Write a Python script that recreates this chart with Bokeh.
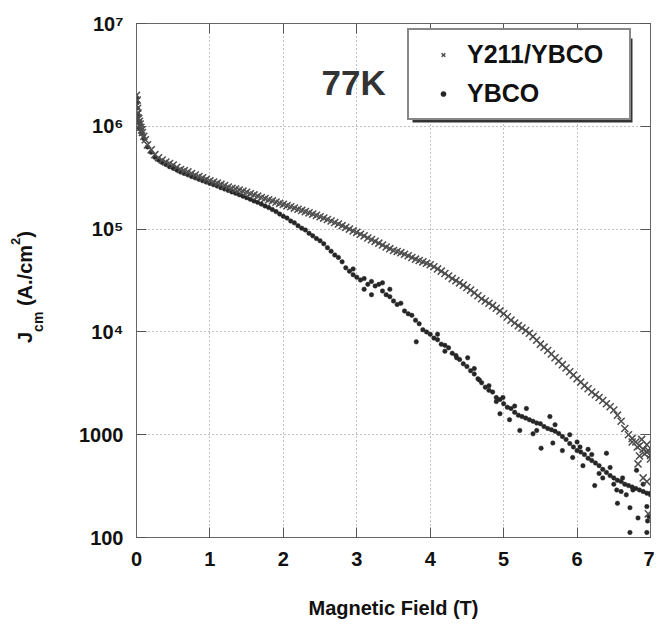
import math
from bokeh.plotting import figure
from bokeh.layouts import row
from bokeh.models import (Range1d, FixedTicker, LinearAxis, LogAxis, Legend,
                          LegendItem, Label, BoxAnnotation, ColumnDataSource, Div)
from bokeh.embed import file_html
from bokeh.resources import INLINE

# ---------------- data ----------------
field_t = [
    0.00, 0.05, 0.10, 0.15, 0.20, 0.25, 0.30, 0.35, 0.40, 0.45,
    0.50, 0.55, 0.60, 0.65, 0.70, 0.75, 0.80, 0.85, 0.90, 0.95,
    1.00, 1.05, 1.10, 1.15, 1.20, 1.25, 1.30, 1.35, 1.40, 1.45,
    1.50, 1.55, 1.60, 1.65, 1.70, 1.75, 1.80, 1.85, 1.90, 1.95,
    2.00, 2.05, 2.10, 2.15, 2.20, 2.25, 2.30, 2.35, 2.40, 2.45,
    2.50, 2.55, 2.60, 2.65, 2.70, 2.75, 2.80, 2.85, 2.90, 2.95,
    3.00, 3.05, 3.10, 3.15, 3.20, 3.25, 3.30, 3.35, 3.40, 3.45,
    3.50, 3.55, 3.60, 3.65, 3.70, 3.75, 3.80, 3.85, 3.90, 3.95,
    4.00, 4.05, 4.10, 4.15, 4.20, 4.25, 4.30, 4.35, 4.40, 4.45,
    4.50, 4.55, 4.60, 4.65, 4.70, 4.75, 4.80, 4.85, 4.90, 4.95,
    5.00, 5.05, 5.10, 5.15, 5.20, 5.25, 5.30, 5.35, 5.40, 5.45,
    5.50, 5.55, 5.60, 5.65, 5.70, 5.75, 5.80, 5.85, 5.90, 5.95,
    6.00, 6.05, 6.10, 6.15, 6.20, 6.25, 6.30, 6.35, 6.40, 6.45,
    6.50, 6.55, 6.60, 6.65, 6.70, 6.75, 6.80, 6.85, 6.90, 6.95,
    7.00,
]

jc_y211 = [
    2.0e6, 1.05e6, 8.0e5, 6.6e5, 5.9e5, 5.3e5, 4.95e5, 4.7e5, 4.5e5, 4.35e5,
    4.2e5, 4.0e5, 3.8e5, 3.7e5, 3.6e5, 3.47e5, 3.35e5, 3.25e5, 3.15e5, 3.05e5,
    2.95e5, 2.87e5, 2.8e5, 2.72e5, 2.65e5, 2.57e5, 2.5e5, 2.45e5, 2.4e5, 2.34e5,
    2.28e5, 2.21e5, 2.15e5, 2.09e5, 2.03e5, 1.98e5, 1.93e5, 1.88e5, 1.83e5, 1.78e5,
    1.74e5, 1.69e5, 1.65e5, 1.6e5, 1.56e5, 1.52e5, 1.48e5, 1.44e5, 1.40e5, 1.36e5,
    1.32e5, 1.28e5, 1.24e5, 1.2e5, 1.16e5, 1.12e5, 1.08e5, 1.04e5, 1.0e5, 9.6e4,
    9.3e4, 8.9e4, 8.6e4, 8.2e4, 7.9e4, 7.6e4, 7.3e4, 7.0e4, 6.7e4, 6.45e4,
    6.2e4, 6.05e4, 5.9e4, 5.7e4, 5.5e4, 5.3e4, 5.1e4, 4.95e4, 4.8e4, 4.65e4,
    4.5e4, 4.3e4, 4.1e4, 3.9e4, 3.7e4, 3.5e4, 3.3e4, 3.15e4, 3.0e4, 2.85e4,
    2.7e4, 2.55e4, 2.4e4, 2.25e4, 2.1e4, 2.0e4, 1.9e4, 1.8e4, 1.7e4, 1.6e4,
    1.5e4, 1.4e4, 1.3e4, 1.22e4, 1.15e4, 1.09e4, 1.03e4, 9.7e3, 9.0e3, 8.3e3,
    7.6e3, 7.1e3, 6.6e3, 6.1e3, 5.6e3, 5.2e3, 4.8e3, 4.45e3, 4.1e3, 3.8e3,
    3.5e3, 3.25e3, 3.0e3, 2.8e3, 2.6e3, 2.45e3, 2.3e3, 2.15e3, 2.0e3, 1.87e3,
    1.74e3, 1.55e3, 1.35e3, 1.15e3, 1.0e3, 920, 850, 780, 720, 680,
    630,
]

jc_ybco = [
    1.9e6, 1.0e6, 7.6e5, 6.3e5, 5.6e5, 5.0e5, 4.7e5, 4.45e5, 4.25e5, 4.05e5,
    3.9e5, 3.75e5, 3.6e5, 3.48e5, 3.37e5, 3.25e5, 3.15e5, 3.05e5, 2.96e5, 2.87e5,
    2.78e5, 2.70e5, 2.62e5, 2.53e5, 2.45e5, 2.38e5, 2.30e5, 2.23e5, 2.16e5, 2.09e5,
    2.02e5, 1.95e5, 1.88e5, 1.82e5, 1.75e5, 1.68e5, 1.62e5, 1.55e5, 1.48e5, 1.40e5,
    1.33e5, 1.28e5, 1.20e5, 1.15e5, 1.08e5, 1.02e5, 9.8e4, 9.1e4, 8.6e4, 8.1e4,
    7.7e4, 7.2e4, 6.6e4, 6.1e4, 5.6e4, 5.3e4, 4.8e4, 4.2e4, 3.9e4, 3.6e4,
    3.4e4, 3.2e4, 3.3e4, 2.9e4, 3.1e4, 2.8e4, 2.9e4, 2.5e4, 2.3e4, 2.2e4,
    2.0e4, 1.85e4, 1.9e4, 1.6e4, 1.5e4, 1.45e4, 1.3e4, 1.2e4, 1.05e4, 1.0e4,
    9.5e3, 8.7e3, 8.4e3, 7.6e3, 7.4e3, 7.0e3, 6.2e3, 5.9e3, 5.4e3, 4.9e3,
    4.6e3, 4.2e3, 3.9e3, 3.5e3, 3.2e3, 2.9e3, 2.7e3, 2.6e3, 2.3e3, 2.2e3,
    2.0e3, 1.85e3, 1.8e3, 1.65e3, 1.55e3, 1.5e3, 1.45e3, 1.4e3, 1.35e3, 1.3e3,
    1.28e3, 1.2e3, 1.15e3, 1.12e3, 1.08e3, 1.03e3, 960, 900, 820, 760,
    700, 680, 640, 590, 560, 530, 500, 460, 430, 400,
    380, 360, 350, 330, 320, 310, 300, 290, 280, 270,
    260,
]

# extra scattered points (low-field spike and high-field noise)
extra_field_y211 = [0.0, 0.0, 0.01, 0.015, 0.02, 0.03, 0.04, 0.06, 0.07, 0.08, 0.12,
                    6.75, 6.82, 6.85, 6.88, 6.90, 6.92, 6.95, 6.95, 6.97, 6.97, 7.0, 6.83]
extra_jc_y211 = [1.6e6, 1.3e6, 1.8e6, 1.5e6, 1.35e6, 1.2e6, 1.12e6, 9.8e5, 9.2e5, 8.7e5, 7.4e5,
                 850, 760, 620, 900, 380, 650, 350, 800, 700, 170, 580, 520]

extra_field_ybco = [0.0, 0.0, 0.01, 0.02, 0.03, 0.04, 0.07,
                    2.95, 3.10, 3.20, 3.35, 3.45, 3.81, 4.10, 4.20, 4.36, 4.51, 4.60,
                    4.67, 4.80, 4.90, 4.95, 4.99, 5.08, 5.15, 5.22, 5.31, 5.40, 5.45,
                    5.51, 5.63, 5.67, 5.70, 5.80, 5.90, 5.94, 6.00, 6.04, 6.08, 6.15,
                    6.20, 6.24, 6.30, 6.35, 6.40, 6.45, 6.50, 6.54, 6.55, 6.60, 6.62,
                    6.67, 6.72, 6.72, 6.76, 6.81, 6.83, 6.90, 6.95, 6.96, 6.95, 6.98, 7.0]
extra_jc_ybco = [1.5e6, 1.2e6, 1.7e6, 1.3e6, 1.1e6, 9.5e5, 8.5e5,
                 4.1e4, 2.6e4, 2.3e4, 3.0e4, 2.6e4, 8.0e3, 9.5e3, 6.5e3, 5.6e3, 5.6e3, 4.4e3,
                 3.4e3, 3.0e3, 2.1e3, 1.6e3, 2.3e3, 1.4e3, 1.9e3, 1.1e3, 1.8e3, 1.02e3, 1.1e3,
                 740, 1.5e3, 830, 1.25e3, 700, 1.0e3, 600, 850, 760, 500, 720,
                 640, 320, 420, 380, 660, 480, 330, 290, 215, 280, 380,
                 260, 195, 112, 290, 450, 155, 330, 200, 145, 112, 160, 270]

x_ticks = [0, 1, 2, 3, 4, 5, 6, 7]
y_ticks = [100, 1000, 10000, 100000, 1000000, 10000000]
y_tick_labels = ["100", "1000", "10\u2074", "10\u2075", "10\u2076", "10\u2077"]

series_names = ["Y211/YBCO", "YBCO"]
temperature_label = "77K"
x_title = "Magnetic Field (T)"

# ---------------- layout constants ----------------
FONT = "Liberation Sans"
FRAME_W, FRAME_H = 514, 514
X0, X1 = 0, 7
Y0, Y1 = 100, 1e7
PAGE_LEFT, PAGE_TOP = 137, 23   # frame position in the reference (for annotation placement)
DIV_W = 50
FIG_TOP, FIG_BOTTOM = 23, 86
TOTAL_H = FIG_TOP + FRAME_H + FIG_BOTTOM


def px_to_x(px):
    return X0 + (px - PAGE_LEFT) * (X1 - X0) / FRAME_W


def py_to_y(py):
    dec = math.log10(Y1) - (py - PAGE_TOP) * (math.log10(Y1) - math.log10(Y0)) / FRAME_H
    return 10 ** dec


p = figure(x_range=Range1d(X0, X1), y_range=Range1d(Y0, Y1), y_axis_type="log",
           frame_width=FRAME_W, frame_height=FRAME_H,
           min_border_left=126 - DIV_W, min_border_right=4,
           min_border_top=FIG_TOP, min_border_bottom=FIG_BOTTOM,
           output_backend="svg", toolbar_location=None,
           background_fill_color="white", border_fill_color="white")
p.outline_line_color = "#666666"
p.outline_line_width = 1

# grid
for g, t in ((p.xgrid, x_ticks), (p.ygrid, y_ticks)):
    g.ticker = FixedTicker(ticks=t)
    g.grid_line_color = "#808080"
    g.grid_line_dash = "1 3"
    g.grid_line_width = 1

# main axes
xa = p.xaxis[0]
ya = p.yaxis[0]
xa.ticker = FixedTicker(ticks=x_ticks)
ya.ticker = FixedTicker(ticks=y_ticks)
ya.major_label_overrides = {t: l for t, l in zip(y_ticks, y_tick_labels)}
for ax in (xa, ya):
    ax.minor_tick_line_color = None
    ax.major_tick_in = 10
    ax.major_tick_out = 0
    ax.major_tick_line_color = "#555555"
    ax.axis_line_color = "#666666"
    ax.major_label_text_font = FONT
    ax.major_label_text_font_style = "bold"
    ax.major_label_text_font_size = "20px"
    ax.major_label_text_color = "#111111"
xa.major_label_standoff = 14
ya.major_label_standoff = 13
xa.axis_label = x_title
xa.axis_label_text_font = FONT
xa.axis_label_text_font_style = "bold"
xa.axis_label_text_font_size = "20px"
xa.axis_label_text_color = "#111111"
xa.axis_label_standoff = 28

# mirrored tick axes (top / right), no labels
top_ax = LinearAxis(ticker=FixedTicker(ticks=x_ticks),
                    major_label_overrides={t: "" for t in x_ticks},
                    major_label_orientation="vertical", major_label_standoff=0)
right_ax = LogAxis(ticker=FixedTicker(ticks=y_ticks),
                   major_label_overrides={t: "" for t in y_ticks},
                   major_label_standoff=0)
for ax in (top_ax, right_ax):
    ax.minor_tick_line_color = None
    ax.major_tick_in = 10
    ax.major_tick_out = 0
    ax.major_tick_line_color = "#555555"
    ax.axis_line_color = "#666666"
p.add_layout(top_ax, "above")
p.add_layout(right_ax, "right")

# data
src_ybco = ColumnDataSource(dict(x=field_t + extra_field_ybco, y=jc_ybco + extra_jc_ybco))
src_y211 = ColumnDataSource(dict(x=field_t + extra_field_y211, y=jc_y211 + extra_jc_y211))
r_ybco = p.scatter("x", "y", source=src_ybco, marker="circle", size=4.5,
                   fill_color="#262626", line_color="#262626", line_width=0.5)
r_y211 = p.scatter("x", "y", source=src_y211, marker="x", size=10,
                   line_color="#4d4d4d", line_width=1.5)

# legend shadow + legend
shadow = BoxAnnotation(left=px_to_x(413), right=px_to_x(633), top=py_to_y(38), bottom=py_to_y(122),
                       fill_color="#333333", fill_alpha=1.0, line_alpha=0)
p.add_layout(shadow)
legend = Legend(items=[LegendItem(label=series_names[0], renderers=[r_y211]),
                       LegendItem(label=series_names[1], renderers=[r_ybco])],
                location=(271, 417), orientation="vertical",
                border_line_color="#111111", border_line_width=2,
                background_fill_color="white", background_fill_alpha=1.0,
                label_text_font=FONT, label_text_font_style="bold",
                label_text_font_size="25px", label_text_color="#111111",
                glyph_width=48, glyph_height=13, label_height=26, label_width=152,
                label_standoff=0, padding=10, spacing=10, margin=0)
p.add_layout(legend)

# 77K label
p.add_layout(Label(x=px_to_x(322), y=py_to_y(82), text=temperature_label,
                   text_font=FONT, text_font_style="bold", text_font_size="35px",
                   text_color="#333333", text_baseline="alphabetic", text_align="left"))

# y-axis title as real HTML text: J_cm (A./cm^2), rotated
ytitle_html = (
    '<div style="position:absolute; left:10px; top:338px; transform:rotate(-90deg); '
    'transform-origin:0 0; white-space:nowrap; font-family:\'Liberation Sans\'; '
    'font-weight:bold; font-size:20px; line-height:20px; color:#111111;">'
    'J<span style="position:relative; top:11px; font-size:14px;">cm</span>'
    '&nbsp;(A./cm<span style="position:relative; top:-12px; font-size:13px;">2</span>)'
    '</div>'
)
ytitle = Div(text=ytitle_html, width=DIV_W, height=TOTAL_H,
             styles={"position": "relative", "overflow": "visible"})

layout = row(ytitle, p, spacing=0)
open("out.html", "w").write(file_html(layout, INLINE))
